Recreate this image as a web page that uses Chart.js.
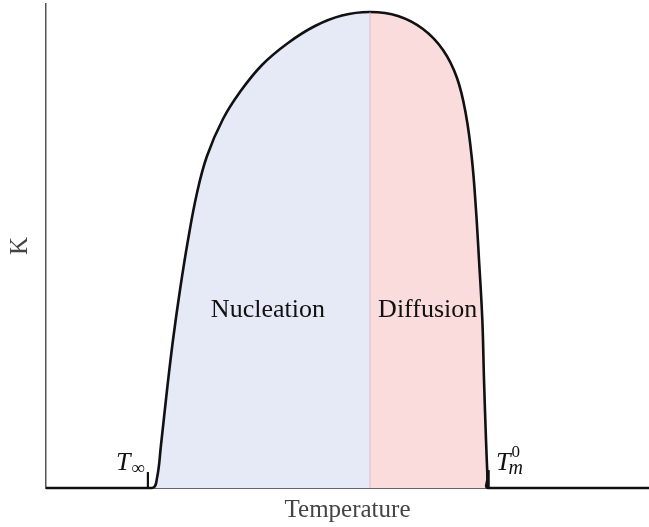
<!DOCTYPE html>
<html>
<head>
<meta charset="utf-8">
<script src="https://cdn.jsdelivr.net/npm/chart.js@4/dist/chart.umd.min.js"></script>
<style>
  html,body{margin:0;padding:0;background:#fff}
  #wrap{width:649px;height:527px;position:relative}
</style>
</head>
<body>
<div id="wrap"><canvas id="c"></canvas></div>
<script>
// curve: temperature (0..100) vs K (0..100)
const curveT = [0, 17.6, 18.41, 19.07, 20.07, 21.06, 22.22, 23.55, 25.04, 26.70, 29.35, 32.17, 35.82, 40.13, 44.61, 49.09,
                53.73, 58.37, 62.52, 65.84, 68.16, 69.65, 70.65, 71.31, 71.81, 72.36, 72.64, 72.97, 73.22, 73.30, 100];
const curveK = [0, 0,    2.07,  8.88,  20.25, 30.58, 40.91, 51.24, 60.95, 68.60, 76.24, 81.82, 87.40, 91.94, 95.45, 97.62,
                98.35, 97.52, 94.83, 90.50, 84.71, 77.07, 67.77, 57.44, 47.11, 34.71, 22.31, 9.92,  2.07,  0,     0];

// nucleation left of the maximum, diffusion right of it
const peakT = 53.73;
const peakK = 98.35;

// the two little end markers (T_inf and T_m^0)
const markT = [16.9, 73.3];
const markK = [3.3, 3.7];

const regionNames = ['Nucleation', 'Diffusion'];
const regionT = [36.8, 63.3];
const regionK = 36.8;

const pts = (xs, ys) => xs.map((x,i) => ({x, y: ys[i]}));
const serif = '"Liberation Serif", "DejaVu Serif", serif';
const BLUE = 'rgb(230,234,246)', PINK = 'rgb(250,220,221)';

const labelPlugin = {
  id: 'labels',
  afterDatasetsDraw(chart) {
    const {ctx, scales:{x, y}} = chart;
    ctx.save();
    ctx.fillStyle = '#111';
    ctx.textAlign = 'center';
    ctx.textBaseline = 'middle';
    ctx.font = '26px ' + serif;
    regionNames.forEach((n,i) => ctx.fillText(n, x.getPixelForValue(regionT[i]), y.getPixelForValue(regionK)));

    // T_inf, left of the first marker
    const base = y.getPixelForValue(0);
    let px = x.getPixelForValue(markT[0]);
    ctx.textBaseline = 'alphabetic';
    ctx.textAlign = 'right';
    ctx.font = '19px ' + serif;
    ctx.fillText('\u221E', px - 3, base - 14);
    const infW = ctx.measureText('\u221E').width;
    ctx.font = 'italic 26px ' + serif;
    ctx.fillText('T', px - 4 - infW, base - 18);

    // T_m^0, right of the second marker
    px = x.getPixelForValue(markT[1]);
    ctx.textAlign = 'left';
    ctx.font = 'italic 26px ' + serif;
    ctx.fillText('T', px + 8, base - 18);
    const tW = ctx.measureText('T').width;
    ctx.font = 'italic 20px ' + serif;
    ctx.fillText('m', px + 6 + tW, base - 14);
    ctx.font = '17px ' + serif;
    ctx.fillText('0', px + 9 + tW, base - 31);
    ctx.restore();
  }
};

new Chart(document.getElementById('c'), {
  type: 'line',
  data: {
    datasets: [
      { data: [{x: peakT, y: 0}, {x: peakT, y: peakK}], borderColor: 'rgba(215,170,185,0.7)', borderWidth: 1,
        pointRadius: 0, fill: false, order: 2 },
      { data: pts(curveT, curveK), borderColor: '#111', borderWidth: 2.6, pointRadius: 0,
        tension: 0.4, fill: 'origin', clip: false, backgroundColor: BLUE, order: 3,
        segment: { backgroundColor: c => c.p0.parsed.x < peakT ? BLUE : PINK } },
      { data: [{x: markT[0], y: 0}, {x: markT[0], y: markK[0]}], borderColor: '#111', borderWidth: 2.2, pointRadius: 0, fill: false, clip: false, order: 1 },
      { data: [{x: markT[1], y: 0}, {x: markT[1], y: markK[1]}], borderColor: '#111', borderWidth: 3.5, pointRadius: 0, fill: false, clip: false, order: 1 },
    ],
  },
  options: {
    responsive: true, maintainAspectRatio: false, animation: false,
    layout: { padding: { left: 5, top: 4, right: 0, bottom: 2 } },
    plugins: { legend: { display: false }, tooltip: { enabled: false } },
    scales: {
      x: { type: 'linear', min: 0, max: 100,
           grid: { display: false, drawTicks: false }, ticks: { display: false },
           border: { color: '#666', width: 2 },
           title: { display: true, text: 'Temperature', color: '#444',
                    font: { family: serif, size: 25 }, padding: { top: 7, bottom: 0 } } },
      y: { min: 0, max: 100,
           grid: { display: false, drawTicks: false }, ticks: { display: false },
           border: { color: '#555', width: 1.5 },
           title: { display: true, text: 'K', color: '#444',
                    font: { family: serif, size: 25 }, padding: { top: 0, bottom: 11 } } },
    },
  },
  plugins: [labelPlugin],
});
</script>
</body>
</html>
